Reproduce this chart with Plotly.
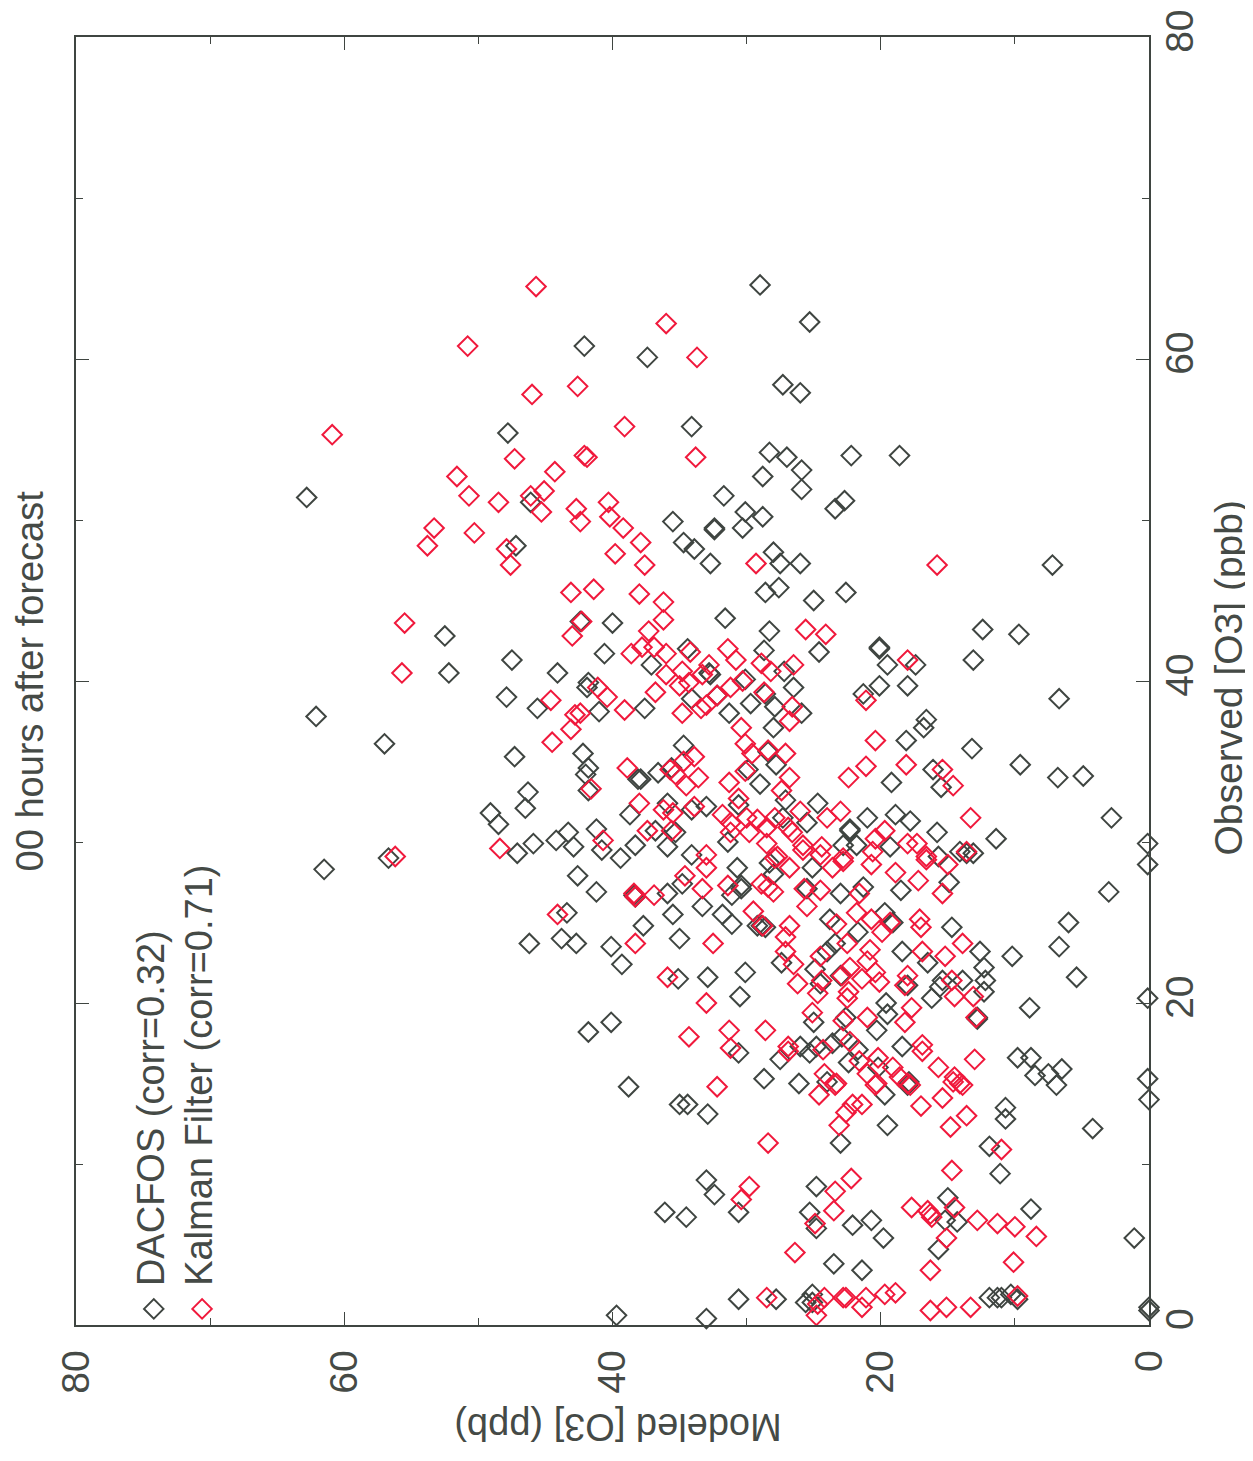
import plotly.graph_objects as go

dacfos_modeled = [42.1,47.8,62.8,46.1,47.2,29.0,25.3,37.4,27.3,26.0,34.1,28.3,27.0,22.2,18.6,25.9,28.8,25.9,31.7,22.7,23.4,30.1,28.8,35.5,32.4,32.4,30.3,34.7,33.9,32.7,28.0,27.5,26.0,27.6,28.6,25.0,22.6,31.6,
 28.3,34.4,28.7,24.6,20.1,20.1,19.5,37.1,32.8,32.7,27.2,30.1,20.1,18.0,26.5,21.3,34.1,32.2,29.7,28.6,27.9,25.9,37.6,31.3,28.0,34.7,18.1,28.4,27.8,29.9,36.6,35.6,19.2,29.0,37.9,35.9,30.6,34.1,33.0,27.1,24.7,21.0,18.9,17.8,25.5,22.3,22.3,35.3,36.8,27.3,21.8,22.8,19.3,35.9,31.4,34.1,
 42.4,40.0,52.5,47.5,40.6,44.1,52.2,41.8,41.9,47.9,45.6,41.0,57.0,47.3,42.2,41.8,42.0,41.8,38.1,46.3,46.5,38.7,49.1,48.5,43.3,44.2,42.9,45.9,41.2,40.8,38.3,47.1,39.4,56.7,61.5,62.1,
 7.2,12.4,9.7,13.1,17.4,6.7,16.6,16.8,13.2,16.1,15.5,9.6,6.8,4.9,2.8,11.4,15.8,14.1,13.1,13.6,15.7,0.1,0.1,
 42.6,41.2,38.4,38.3,35.9,34.8,30.7,30.4,30.4,31.1,33.3,35.5,31.8,31.1,43.4,37.7,35.0,43.8,42.7,46.2,40.1,39.3,30.1,32.9,35.1,30.5,40.1,41.8,30.6,28.7,38.8,29.2,28.9,28.6,
 28.3,25.1,28.0,25.5,23.0,21.3,18.5,14.9,14.7,23.8,19.7,19.1,21.7,18.4,12.6,10.2,12.3,16.5,27.4,24.0,23.4,24.9,24.5,23.0,15.4,13.9,12.2,12.3,16.2,15.6,18.0,19.6,19.5,12.8,12.8,22.6,25.0,20.3,18.4,26.0,25.3,24.8,27.5,23.6,22.9,21.7,22.4,20.2,9.8,26.1,24.0,17.9,
 3.0,6.0,6.7,5.4,0.1,8.9,8.8,8.5,7.5,6.5,6.9,0.1,0.0,10.7,10.7,4.2,11.1,8.8,1.1,0.0,0.0,9.8,10.3,11.0,11.9,
 35.0,34.4,32.9,33.0,32.4,36.1,34.5,30.6,25.3,24.8,24.8,39.7,33.0,30.6,27.8,25.6,25.1,
 19.7,18.0,11.9,19.5,23.0,22.1,20.7,19.8,15.0,15.2,14.3,15.7,23.5,21.4,11.3,25.1]
dacfos_observed = [60.8,55.4,51.4,51.1,48.4,64.6,62.3,60.1,58.4,57.9,55.8,54.2,53.9,54.0,54.0,53.1,52.7,51.9,51.5,51.2,50.7,50.5,50.2,49.9,49.5,49.4,49.5,48.6,48.2,47.3,48.0,47.3,47.3,45.8,45.5,45.0,45.5,43.9,
 43.1,42.0,41.9,41.8,42.1,42.0,41.0,41.0,40.5,40.4,40.6,40.1,39.7,39.7,39.6,39.2,38.9,39.1,38.6,39.2,38.4,38.0,38.3,38.0,37.1,36.0,36.3,35.6,34.8,34.5,34.3,34.6,33.7,33.6,33.9,32.4,32.3,32.0,32.2,32.6,32.4,31.5,31.7,31.3,31.2,30.8,30.7,30.6,30.7,31.5,29.8,29.8,29.7,29.7,30.0,29.2,
 43.7,43.6,42.8,41.3,41.7,40.5,40.5,39.9,39.6,39.0,38.3,38.1,36.1,35.3,35.5,34.6,34.2,33.2,33.9,33.1,32.1,31.7,31.8,31.1,30.6,30.1,29.7,29.9,30.8,29.5,29.8,29.3,29.0,29.0,28.3,37.8,
 47.2,43.2,42.9,41.3,41.0,38.9,37.6,37.1,35.8,34.5,33.4,34.8,34.0,34.1,31.5,30.2,30.6,29.4,29.3,29.3,29.1,29.9,28.6,
 27.9,26.9,26.7,26.6,26.8,27.4,28.4,27.3,27.1,26.7,26.0,25.5,25.5,24.9,25.6,24.8,24.0,24.0,23.7,23.7,23.5,22.4,21.9,21.6,21.5,20.4,18.8,18.2,16.9,15.3,14.8,24.8,24.8,24.7,
 28.7,28.4,28.0,27.1,26.8,27.2,27.0,27.5,24.7,25.2,25.6,25.0,24.4,23.2,23.2,22.9,22.2,22.5,22.5,23.2,23.7,22.1,21.2,21.7,21.4,21.4,21.4,20.7,20.3,21.0,21.1,20.0,19.3,19.1,19.0,19.1,18.8,18.3,17.3,17.3,16.9,17.3,16.5,17.5,17.9,17.1,16.3,16.0,16.6,15.0,15.1,15.1,
 26.9,25.0,23.5,21.6,20.3,19.7,16.6,15.5,15.6,15.9,14.9,15.3,14.0,13.5,12.8,12.2,9.4,7.2,5.4,0.9,1.1,1.6,1.9,1.7,1.7,
 13.7,13.7,13.1,9.0,8.1,7.0,6.7,7.0,7.0,8.6,6.0,0.6,0.4,1.6,1.6,1.4,1.9,
 14.3,14.9,11.1,12.4,11.3,6.2,6.5,5.4,7.9,6.5,6.4,4.7,3.8,3.4,1.7,1.4]

kalman_modeled = [45.7,50.8,42.6,46.0,60.9,39.1,47.3,42.1,41.9,44.3,51.6,50.7,48.5,46.1,45.1,45.3,42.7,40.3,40.2,42.4,39.2,53.3,50.3,53.8,47.9,47.6,39.8,43.1,41.4,55.5,36.0,33.7,33.8,37.9,37.6,38.0,36.2,36.2,29.3,15.8,42.3,55.7,43.0,38.6,37.8,37.3,44.6,41.1,40.4,39.1,42.8,42.4,43.1,44.5,38.9,41.6,38.0,37.4,40.7,48.4,56.2,
 25.6,24.1,36.9,36.0,34.2,31.4,30.8,28.9,26.5,18.0,28.2,32.8,34.8,36.0,35.0,34.3,33.3,36.8,31.2,30.3,28.7,32.2,33.0,33.4,34.8,26.6,26.8,21.1,30.4,20.4,30.1,29.6,28.4,27.1,33.9,34.7,35.7,35.3,34.5,33.6,30.1,31.3,26.8,27.4,21.1,22.4,18.1,36.2,35.5,30.6,33.9,31.8,26.0,23.0,24.0,27.9,29.2,30.0,31.2,26.9,28.5,35.6,31.2,29.8,26.6,19.7,20.4,25.8,28.5,24.4,20.6,18.0,33.0,22.8,24.5,27.7,15.4,14.6,13.3,17.3,13.6,16.6,
 38.4,38.3,36.9,34.6,33.0,33.3,31.4,28.9,44.1,29.5,28.8,38.3,32.5,35.9,33.0,34.3,31.3,31.2,28.6,32.2,
 27.9,26.8,25.8,23.6,22.8,20.7,18.9,16.6,17.2,15.0,15.4,25.7,24.5,28.0,28.4,25.5,21.6,21.8,20.7,19.3,19.9,23.3,17.1,17.0,26.8,27.1,13.9,16.9,15.2,20.8,27.1,24.5,22.5,26.5,21.0,22.3,20.4,26.2,24.4,22.9,21.4,20.1,14.7,18.0,18.2,13.1,14.5,24.7,22.5,22.4,17.7,25.1,21.0,22.8,18.2,12.9,22.3,26.9,26.9,24.3,16.9,16.9,13.0,21.6,20.2,15.7,19.1,14.5,14.1,24.2,21.0,18.6,23.3,20.3,18.0,
 11.0,10.0,8.4,10.1,9.8,11.3,12.8,14.5,17.7,16.5,16.2,16.3,15.1,16.3,14.7,22.2,23.4,23.5,24.9,18.9,19.7,21.1,22.6,22.8,24.2,21.4,24.8,16.3,15.1,13.3,
 28.4,29.8,30.4,26.4,28.5,24.7,24.6,23.4,20.4,17.8,14.6,13.9,22.1,21.4,22.6,17.0,15.4,13.6,14.8,23.1]
kalman_observed = [64.5,60.8,58.3,57.8,55.3,55.8,53.8,54.0,53.9,53.0,52.7,51.5,51.1,51.5,51.8,50.5,50.7,51.1,50.2,49.9,49.5,49.5,49.2,48.4,48.2,47.2,47.9,45.5,45.7,43.6,62.2,60.1,53.9,48.6,47.2,45.4,44.9,43.8,47.3,47.2,43.7,40.5,42.8,41.7,42.1,43.1,38.8,39.6,39.0,38.2,37.9,38.0,37.0,36.2,34.6,33.3,32.4,30.7,30.1,29.6,29.1,
 43.2,42.9,42.1,41.7,41.8,42.0,41.3,41.1,41.0,41.3,40.6,41.0,40.6,40.4,39.7,39.9,40.4,39.3,39.6,40.0,39.3,39.1,38.5,38.3,38.0,38.4,37.5,38.8,37.1,36.3,36.1,35.5,35.7,35.5,35.3,35.0,34.5,34.2,33.5,34.0,34.4,33.7,34.0,33.2,34.7,34.0,34.8,32.0,31.8,32.7,32.2,31.7,31.9,31.9,31.5,31.5,31.4,31.5,31.2,30.9,30.9,30.7,30.6,30.6,30.6,30.7,30.2,29.8,29.9,29.7,29.4,29.9,29.2,29.0,29.2,29.1,34.5,33.5,31.5,29.9,29.4,29.1,
 26.8,26.6,26.7,27.9,28.4,27.1,27.3,27.4,25.5,25.7,24.8,23.7,23.7,21.6,20.0,17.9,18.3,17.2,18.3,14.8,
 29.0,28.4,29.5,28.4,28.8,28.6,28.1,28.9,27.6,28.6,26.8,27.1,27.0,26.9,27.2,26.0,26.8,25.6,25.2,25.0,24.4,24.9,25.2,24.7,24.8,24.1,23.7,23.2,22.9,23.3,23.2,22.9,23.7,22.4,22.6,22.2,21.9,21.2,21.4,21.7,21.5,21.3,21.4,21.7,21.1,20.4,20.4,20.6,20.3,20.7,19.7,19.4,19.1,18.9,18.8,19.1,17.6,17.3,17.0,17.1,17.4,17.0,16.5,16.4,16.6,16.0,16.0,15.4,15.0,15.6,15.6,15.4,15.0,15.0,15.0,
 10.9,6.1,5.5,3.9,1.8,6.3,6.5,7.3,7.3,7.1,6.7,6.9,5.4,3.4,9.6,9.1,8.3,7.1,6.3,2.0,1.9,1.7,1.7,1.7,1.7,1.1,0.6,0.9,1.1,1.1,
 11.3,8.6,7.8,4.5,1.7,1.3,14.3,14.9,14.9,14.9,15.1,14.9,13.7,13.7,13.2,13.6,14.1,13.0,12.3,12.4]

legend_names = ["DACFOS (corr=0.32)", "Kalman Filter (corr=0.71)"]
legend_key_modeled = [74.2, 70.6]
legend_key_observed = [1.0, 1.0]
axis_ticks = [0, 20, 40, 60, 80]
title_text = "00 hours after forecast"
xlabel = "Modeled [O3] (ppb)"
ylabel = "Observed [O3] (ppb)"

GREY = "#3f4541"
RED = "#f0193c"
FONT = "Liberation Sans"
TXT = "#454a46"

def mk(color):
    return dict(symbol="diamond-open", size=15, color=color, line=dict(width=2, color=color))

fig = go.Figure()
fig.add_trace(go.Scatter(x=dacfos_modeled, y=dacfos_observed, mode="markers", marker=mk(GREY), name=legend_names[0], cliponaxis=False))
fig.add_trace(go.Scatter(x=kalman_modeled, y=kalman_observed, mode="markers", marker=mk(RED), name=legend_names[1], cliponaxis=False))
for i, c in enumerate([GREY, RED]):
    fig.add_trace(go.Scatter(x=[legend_key_modeled[i]], y=[legend_key_observed[i]], mode="markers", marker=mk(c), showlegend=False))

axis = dict(
    showgrid=False, zeroline=False, showline=True, linecolor=GREY, linewidth=1.5, mirror="ticks",
    ticks="inside", ticklen=13, tickwidth=1.2, tickcolor=GREY, tickmode="array", tickvals=axis_ticks,
    ticktext=[str(t) for t in axis_ticks], tickangle=-90, ticklabeloverflow="allow", automargin=False,
    tickfont=dict(family=FONT, size=39, color=TXT),
    minor=dict(ticks="inside", ticklen=7, tickwidth=1.2, tickcolor=GREY, dtick=10, showgrid=False),
)
fig.update_xaxes(range=[80, 0], ticklabelstandoff=8, **axis)
fig.update_yaxes(range=[0, 80], side="right", ticklabelstandoff=-5, **axis)

def ann(text, x, y, angle, size=38, xa="center", ya="middle", xref="paper", yref="paper"):
    fig.add_annotation(text=text, x=x, y=y, xref=xref, yref=yref, textangle=angle, showarrow=False,
                       xanchor=xa, yanchor=ya, font=dict(family=FONT, size=size, color=TXT))

ann(title_text, -0.0425, 0.5, -90)
ann(ylabel, 1.074, 0.503, -90, size=39)
ann(xlabel, 0.505, -0.079, 180)
ann(legend_names[0], 74.4, 2.3, -90, ya="bottom", xref="x", yref="y")
ann(legend_names[1], 70.8, 2.3, -90, ya="bottom", xref="x", yref="y")

fig.update_layout(width=1253, height=1461, paper_bgcolor="white", plot_bgcolor="white", showlegend=False,
                  margin=dict(l=68, r=112, t=29, b=144, autoexpand=False))
fig.write_html("out.html")
